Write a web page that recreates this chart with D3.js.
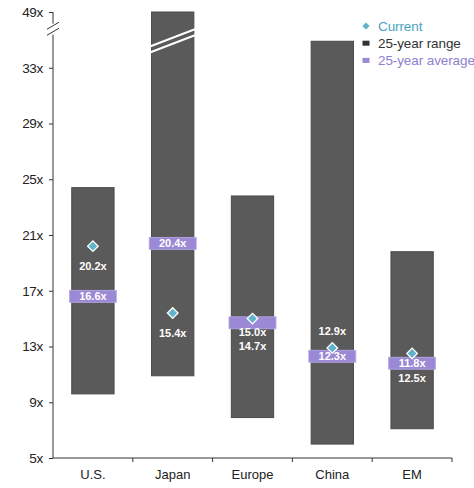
<!DOCTYPE html>
<html><head><meta charset="utf-8">
<script src="https://cdn.jsdelivr.net/npm/d3@7"></script>
<style>
html,body{margin:0;padding:0;background:#fff;overflow:hidden}
svg{display:block;font-family:"Liberation Sans",Arial,sans-serif}
</style></head>
<body>
<svg id="c" width="474" height="488"></svg>
<script>
const categories = ["U.S.", "Japan", "Europe", "China", "EM"];
const rangeLow  = [9.6, 10.9, 7.9, 6.0, 7.1];
const rangeHigh = [24.4, 49, 23.8, 34.9, 19.8];
const current   = [20.2, 15.4, 15.0, 12.9, 12.5];
const average   = [16.6, 20.4, 14.7, 12.3, 11.8];
const currentLabels = ["20.2x", "15.4x", "15.0x", "12.9x", "12.5x"];
const averageLabels = ["16.6x", "20.4x", "14.7x", "12.3x", "11.8x"];
const yTicks = [5, 9, 13, 17, 21, 25, 29, 33, 49];
const legendItems = ["Current", "25-year range", "25-year average"];

const svg = d3.select("#c");
const left = 53, right = 452, bottom = 458;
// linear scale; values above the axis break (49x) are clamped to the top
const y = d3.scaleLinear().domain([5, 37]).range([bottom, 12]).clamp(true);
const x = d3.scaleBand().domain(categories).range([left, right]).padding(0);
const bw = x.bandwidth();
const barW = bw * 0.53, avgW = bw * 0.59, avgH = 12;

const cBar = "#5a5a5a", cPurple = "#9b89d5", cTeal = "#5fb3ca";

// bars
const g = svg.append("g");
categories.forEach((c, i) => {
  const cx = x(c) + bw / 2;
  g.append("rect").attr("x", cx - barW / 2).attr("width", barW)
    .attr("y", y(rangeHigh[i])).attr("height", y(rangeLow[i]) - y(rangeHigh[i]))
    .attr("fill", cBar).attr("stroke", "#4a4a4a").attr("stroke-width", 1);
});

// break marks on Japan bar
const brY = y(35.8);
{
  const cx = x("Japan") + bw / 2;
  const yb = brY + 12;
  [-3, 3].forEach(o => {
    g.append("line").attr("x1", cx - barW / 2 - 1).attr("x2", cx + barW / 2 + 1)
      .attr("y1", yb + o + 8.5).attr("y2", yb + o - 8.5)
      .attr("stroke", "#fff").attr("stroke-width", 2);
  });
}

// averages
categories.forEach((c, i) => {
  const cx = x(c) + bw / 2;
  g.append("rect").attr("x", cx - avgW / 2).attr("width", avgW)
    .attr("y", y(average[i]) - avgH / 2).attr("height", avgH)
    .attr("fill", cPurple).attr("stroke", "#b9adea").attr("stroke-width", 0.8);
});

// diamonds
const sym = d3.symbol().type(d3.symbolSquare).size(56);
categories.forEach((c, i) => {
  const cx = x(c) + bw / 2;
  g.append("path").attr("d", sym)
    .attr("transform", `translate(${cx},${y(current[i])}) rotate(45)`)
    .attr("fill", cTeal).attr("stroke", "#fff").attr("stroke-width", 1.3);
});

// labels
const lab = svg.append("g").attr("font-size", 11).attr("font-weight", "bold")
  .attr("fill", "#fff").attr("text-anchor", "middle");
const curOff = [20, 20, 13, -17, 25];
const avgOff = [0, 0, 23, 0, 0];
categories.forEach((c, i) => {
  const cx = x(c) + bw / 2;
  lab.append("text").attr("x", cx).attr("y", y(current[i]) + curOff[i])
    .attr("dy", "0.36em").text(currentLabels[i]);
  lab.append("text").attr("x", cx).attr("y", y(average[i]) + avgOff[i])
    .attr("dy", "0.36em").text(averageLabels[i]);
});

// y axis
const yAxis = d3.axisLeft(y).tickValues(yTicks).tickSize(4).tickPadding(6)
  .tickFormat(d => d + "x");
const ya = svg.append("g").attr("transform", `translate(${left},0)`).call(yAxis);
ya.select(".domain").remove();
ya.selectAll("line").attr("stroke", "#333");
ya.selectAll("text").attr("font-size", 13.5).attr("fill", "#222")
  .attr("font-family", "'Liberation Sans',Arial,sans-serif").attr("letter-spacing", "-0.3");
// axis line with break
svg.append("line").attr("x1", left).attr("x2", left).attr("y1", y(49)).attr("y2", brY - 5)
  .attr("stroke", "#333");
svg.append("line").attr("x1", left).attr("x2", left).attr("y1", brY + 6).attr("y2", bottom)
  .attr("stroke", "#333");
[-3, 3].forEach(o => {
  svg.append("line").attr("x1", left - 6).attr("x2", left + 6)
    .attr("y1", brY + o + 3.5).attr("y2", brY + o - 3.5)
    .attr("stroke", "#333").attr("stroke-width", 1);
});

// x axis
svg.append("line").attr("x1", left).attr("x2", right).attr("y1", bottom).attr("y2", bottom)
  .attr("stroke", "#333");
const xt = svg.append("g");
categories.forEach((c, i) => {
  xt.append("line").attr("x1", x(c) + bw).attr("x2", x(c) + bw)
    .attr("y1", bottom).attr("y2", bottom + 4).attr("stroke", "#333");
  xt.append("text").attr("x", x(c) + bw / 2).attr("y", bottom + 16)
    .attr("dy", "0.36em").attr("text-anchor", "middle").attr("font-size", 13)
    .attr("fill", "#222").text(c);
});

// legend
const lg = svg.append("g").attr("transform", "translate(366,26)");
const lcol = [cTeal, "#333", cPurple];
const tcol = ["#4aa3c2", "#333", "#8e80d2"];
legendItems.forEach((t, i) => {
  const yy = i * 17.2;
  if (i === 0) {
    lg.append("path").attr("d", d3.symbol().type(d3.symbolSquare).size(26))
      .attr("transform", `translate(0,${yy}) rotate(45)`).attr("fill", lcol[i]);
  } else {
    lg.append("rect").attr("x", -3.5).attr("y", yy - 2.5).attr("width", 7).attr("height", 5)
      .attr("fill", lcol[i]);
  }
  lg.append("text").attr("x", 12).attr("y", yy).attr("dy", "0.36em")
    .attr("font-size", 13.5).attr("fill", tcol[i]).attr("letter-spacing", "-0.1").text(t);
});
</script>
</body></html>
